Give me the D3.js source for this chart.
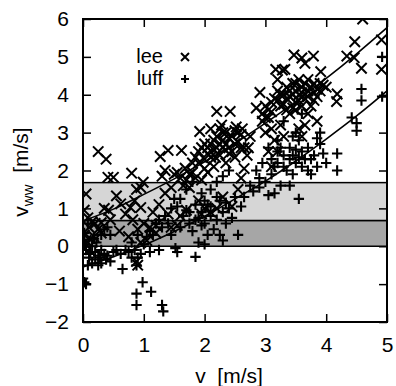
<!DOCTYPE html>
<html><head><meta charset="utf-8">
<script src="https://cdn.jsdelivr.net/npm/d3@7"></script>
<style>body{margin:0;background:#fff}svg{display:block}text{font-family:"Liberation Sans",Arial,sans-serif;fill:#000;white-space:pre}</style>
</head><body><svg id="c" width="396" height="386"></svg>
<script>
const xTicks=[0,1,2,3,4,5];
const yTicks=[-2,-1,0,1,2,3,4,5,6];
const bands=[{lo:0,hi:0.68,fill:"#a6a6a6"},{lo:0.68,hi:1.68,fill:"#d6d6d6"}];
const leeFitX=[0,0.5,1,1.5,2,2.5,3,3.5,4,4.5,5];
const leeFitY=[0.67,0.98,1.37,1.78,2.23,2.72,3.25,3.82,4.43,5.08,5.77];
const luffFitX=[0,0.5,1,1.5,2,2.5,3,3.5,4,4.5,5];
const luffFitY=[-0.55,-0.28,0.03,0.39,0.79,1.25,1.72,2.25,2.83,3.44,4.10];
const lee=[[0.02,0.95],[0.05,1.38],[0.02,0.3],[0.05,0.15],[0.1,0.5],[0.15,0.65],[0.2,0.6],[0.25,0.45],[0.08,0.75],[0.3,0.35],[0.12,0.2],[0.25,2.5],[0.38,2.3],[0.41,1.82],[0.5,1.82],[0.35,1.0],[0.42,0.95],[0.3,0.62],[0.18,0.25],[0.04,0.05],[0.55,1.33],[0.62,1.12],[0.45,0.7],
[0.8,1.93],[0.88,1.5],[0.99,1.69],[0.95,1.55],[0.85,1.2],[0.78,1.02],[0.7,0.85],[0.95,1.02],[1.0,0.6],[0.9,0.45],[0.82,0.7],[1.05,0.15],[1.15,0.9],[1.2,0.55],[1.25,1.1],[1.3,1.85],[1.27,2.37],[1.4,2.53],[1.35,2.0],[1.45,1.55],[1.5,1.9],[1.35,1.4],[1.4,0.85],[1.45,0.5],[1.2,0.35],[0.95,0.1],[0.88,-0.4],[0.9,-0.5],[0.6,0.4],[1.1,0.5],[1.55,0.55],[0.75,0.25],
[1.62,2.53],[1.68,2.06],[1.55,1.95],[1.7,1.75],[1.75,1.9],[1.8,2.2],[1.85,2.35],[1.9,2.5],[1.92,3.03],[1.95,2.6],[2.0,2.3],[2.05,2.45],[2.1,2.7],[2.15,2.55],[2.2,3.56],[2.42,3.56],[2.2,2.9],[2.25,3.1],[2.3,2.8],[2.35,3.0],[2.4,2.6],[2.45,2.9],[2.5,3.05],[2.55,2.75],[2.6,2.95],[2.65,2.6],[2.7,2.4],[2.5,2.35],[2.35,2.2],[2.25,2.4],[2.15,2.1],[2.05,1.95],[1.95,1.75],[1.85,1.8],[1.65,1.6],[1.6,1.8],[1.75,1.55],[2.0,1.0],[1.95,0.85],[2.1,0.9],[2.2,1.0],[2.3,1.3],[1.9,1.2],[1.7,0.95],[1.6,0.8],[2.45,1.05],[2.55,1.5],[2.6,1.8],[2.65,2.05],[2.75,2.9],[2.72,2.6],[2.4,2.45],[2.0,2.7],[2.3,2.6],
[2.05,2.6],[2.1,2.35],[2.15,2.8],[2.2,2.6],[2.25,2.7],[2.3,3.0],[2.35,2.7],[2.4,2.85],[2.45,2.5],[2.5,2.7],[2.55,3.0],[2.6,2.6],[2.62,3.1],[2.1,3.1],[2.0,2.05],[1.9,2.2],[1.8,1.95],[2.28,3.2],[2.52,3.15],[2.18,2.35],
[2.91,4.06],[2.85,3.65],[2.95,3.5],[3.0,3.4],[3.05,3.6],[3.1,3.8],[3.15,3.9],[3.17,4.67],[3.32,4.67],[3.2,4.1],[3.25,3.7],[3.3,4.0],[3.35,4.2],[3.4,3.95],[3.45,4.3],[3.47,5.05],[3.6,4.97],[3.79,5.02],[3.65,4.83],[3.5,4.1],[3.55,4.0],[3.6,4.2],[3.65,3.9],[3.7,4.1],[3.75,3.7],[3.8,4.3],[3.85,4.15],[3.91,4.61],[3.9,4.1],[3.95,4.25],[4.0,4.2],[3.55,4.4],[3.4,3.5],[3.3,2.9],[3.1,3.1],[3.05,2.5],[3.1,2.1],[3.2,2.5],[3.55,3.1],[3.6,2.9],[3.7,3.5],[3.85,3.3],[3.5,3.8],[3.45,3.65],[3.25,3.2],[3.15,2.8],[3.0,3.0],[3.65,3.2],[3.8,3.85],
[3.05,3.4],[3.1,3.55],[3.2,3.85],[3.25,4.0],[3.3,3.75],[3.35,3.9],[3.4,4.1],[3.45,4.0],[3.5,4.3],[3.55,3.85],[3.6,4.05],[3.65,4.3],[3.7,3.95],[3.75,4.2],[3.8,4.05],[3.85,3.95],[3.9,4.3],[3.6,3.7],[3.7,4.4],[3.5,3.6],[3.35,3.6],[3.0,3.7],[2.95,3.3],[3.28,4.65],[3.2,4.4],
[4.17,3.82],[4.18,4.02],[4.34,5.02],[4.46,4.98],[4.47,5.4],[4.58,4.7],[4.6,6.0],[4.91,5.45],[4.91,4.67]];
const luff=[[0.0,-0.85],[0.02,-0.95],[0.05,-1.0],[0.03,0.05],[0.05,-0.1],[0.1,-0.3],[0.08,-0.5],[0.15,-0.45],[0.2,-0.35],[0.25,-0.5],[0.28,-0.3],[0.3,-0.45],[0.35,-0.2],[0.38,-0.35],[0.12,-0.15],[0.18,0.2],[0.22,0.1],[0.3,0.3],[0.35,0.45],[0.4,0.5],[0.45,0.3],[0.5,-0.15],[0.08,0.6],[0.02,0.35],
[0.1,-0.2],[0.15,0.0],[0.2,-0.15],[0.25,-0.25],[0.3,-0.1],[0.4,-0.25],[0.45,-0.4],
[0.55,-0.1],[0.62,-0.2],[0.65,-0.6],[0.7,-0.1],[0.75,-0.15],[0.8,-0.3],[0.85,-0.1],[0.88,-0.5],[0.9,-0.3],[0.95,-0.2],[0.98,-0.95],[0.88,-1.25],[0.88,-1.55],[1.12,-1.2],[1.3,-1.55],[1.32,-1.72],[1.0,0.05],[1.05,0.25],[1.1,0.4],[1.15,0.3],[1.2,0.6],[1.25,0.7],[1.3,0.5],[1.35,0.8],[1.4,0.6],[1.1,-0.15],[1.25,-0.1],[1.45,1.0],[1.5,1.25],[1.55,-0.15],[1.52,-0.05],[1.85,-0.28],[0.9,0.3],[0.8,0.1],[1.45,0.3],
[1.6,0.5],[1.65,0.8],[1.7,0.95],[1.75,0.6],[1.8,0.4],[1.85,1.1],[1.9,0.75],[1.95,0.9],[2.0,0.6],[2.05,1.1],[2.1,0.8],[2.15,0.45],[2.2,0.7],[2.25,1.2],[2.3,0.9],[2.35,0.6],[2.4,1.0],[2.45,0.75],[2.5,1.3],[2.55,0.3],[2.6,1.05],[2.65,1.3],[2.1,1.5],[2.2,1.7],[2.3,1.85],[2.4,2.0],[1.95,1.4],[1.8,1.7],[1.6,1.25],[1.55,1.05],[1.9,0.1],[2.0,0.05],[2.25,0.3],[2.05,0.3],[2.3,0.15],[1.7,1.5],
[1.75,0.9],[1.85,0.7],[2.0,1.2],[2.1,1.05],[2.2,1.3],[2.35,1.15],[1.95,0.55],
[2.75,1.6],[2.8,1.45],[2.85,2.0],[2.9,1.55],[2.95,2.2],[3.0,1.7],[3.05,1.35],[3.1,2.3],[3.15,2.1],[3.2,2.5],[3.25,1.6],[3.3,2.4],[3.35,2.0],[3.4,2.6],[3.45,2.4],[3.5,2.2],[3.55,2.8],[3.6,2.5],[3.65,2.3],[3.7,2.0],[3.75,1.9],[3.8,2.4],[3.85,2.1],[3.9,2.7],[3.95,2.45],[4.0,2.2],[3.55,1.25],[3.4,1.6],[3.2,2.8],[3.3,3.3],[3.5,3.0],[3.6,3.5],[3.7,2.6],[3.9,3.0],[3.15,1.4],[2.9,1.8],[3.05,2.6],[3.45,1.9],[3.85,2.85],
[3.1,1.9],[3.2,2.2],[3.3,2.1],[3.4,2.3],[3.5,2.55],[3.6,2.1],[3.75,2.3],[3.25,2.6],[3.45,2.9],[3.55,2.35],
[4.18,2.45],[4.18,2.0],[4.42,3.4],[4.5,3.25],[4.5,3.05],[4.58,4.15],[4.58,3.85],[4.92,5.0],[4.92,3.95]];

const L=83,R=387,T=19,B=322;
const x=d3.scaleLinear().domain([0,5]).range([L,R]);
const y=d3.scaleLinear().domain([-2,6]).range([B,T]);
const svg=d3.select("#c");
const plot=svg.append("g");
plot.selectAll("rect.band").data(bands).enter().append("rect")
 .attr("x",x(0)).attr("width",x(5)-x(0))
 .attr("y",d=>y(d.hi)).attr("height",d=>y(d.lo)-y(d.hi))
 .attr("fill",d=>d.fill).attr("stroke","#000").attr("stroke-width",1.5);

svg.append("clipPath").attr("id","clp").append("rect").attr("x",L).attr("y",T).attr("width",R-L).attr("height",B-T);
const g=svg.append("g").attr("clip-path","url(#clp)");
const ms=5.2;
function cross(sel,s){const m=s||ms;sel.append("path").attr("d",`M${-m},${-m}L${m},${m}M${-m},${m}L${m},${-m}`).attr("stroke","#000").attr("stroke-width",2).attr("fill","none");}
function plus(sel,s){const m=s||ms;sel.append("path").attr("d",`M${-m},0L${m},0M0,${-m}L0,${m}`).attr("stroke","#000").attr("stroke-width",2.1).attr("fill","none");}
g.selectAll("g.lee").data(lee).enter().append("g").attr("transform",d=>`translate(${x(d[0])},${y(d[1])})`).call(cross);
g.selectAll("g.luff").data(luff).enter().append("g").attr("transform",d=>`translate(${x(d[0])},${y(d[1])})`).call(plus);
const line=d3.line().x(d=>x(d[0])).y(d=>y(d[1])).curve(d3.curveMonotoneX);
g.append("path").attr("d",line(leeFitX.map((v,i)=>[v,leeFitY[i]]))).attr("fill","none").attr("stroke","#000").attr("stroke-width",1.6);
g.append("path").attr("d",line(luffFitX.map((v,i)=>[v,luffFitY[i]]))).attr("fill","none").attr("stroke","#000").attr("stroke-width",1.6);

// axes
const fs=21;
const ax=svg.append("g").attr("transform",`translate(0,${B})`).call(d3.axisBottom(x).tickValues(xTicks).tickSize(-8).tickPadding(15).tickFormat(d3.format("d")));
const axT=svg.append("g").attr("transform",`translate(0,${T})`).call(d3.axisTop(x).tickValues(xTicks).tickSize(-8).tickFormat(""));
const ay=svg.append("g").attr("transform",`translate(${L},0)`).call(d3.axisLeft(y).tickValues(yTicks).tickSize(-8).tickPadding(14).tickFormat(d3.format("d")));
const ayR=svg.append("g").attr("transform",`translate(${R},0)`).call(d3.axisRight(y).tickValues(yTicks).tickSize(-8).tickFormat(""));
[ax,axT,ay,ayR].forEach(a=>{a.select(".domain").remove();a.selectAll("line").attr("stroke","#000").attr("stroke-width",1.5);a.selectAll("text").attr("font-size",fs).attr("font-family","Liberation Sans, Arial, sans-serif");});
svg.append("rect").attr("x",L).attr("y",T).attr("width",R-L).attr("height",B-T).attr("fill","none").attr("stroke","#000").attr("stroke-width",2);

// titles
svg.append("text").attr("x",229).attr("y",383).attr("text-anchor","middle").attr("font-size",fs).text("v  [m/s]");
const yt=svg.append("text").attr("transform","translate(28,172) rotate(-90)").attr("text-anchor","middle").attr("font-size",fs);
yt.append("tspan").text("v");
yt.append("tspan").attr("font-size",15).attr("dy",5).text("ww");
yt.append("tspan").attr("dy",-5).text("  [m/s]");

// legend
const leg=svg.append("g");
leg.append("text").attr("x",163).attr("y",63).attr("text-anchor","end").attr("font-size",20).text("lee");
leg.append("text").attr("x",163).attr("y",85).attr("text-anchor","end").attr("font-size",20).text("luff");
leg.append("g").attr("transform","translate(185,57)").call(cross,4);
leg.append("g").attr("transform","translate(185,79)").call(plus,4);
</script></body></html>
